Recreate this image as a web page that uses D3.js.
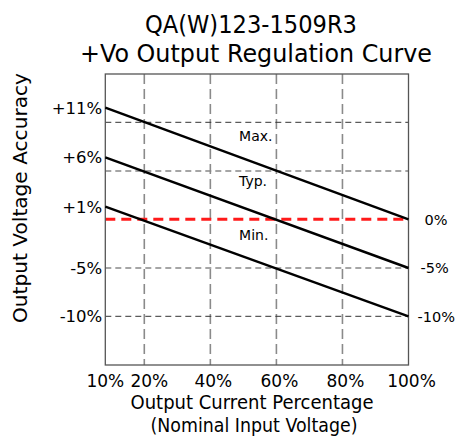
<!DOCTYPE html>
<html><head><meta charset="utf-8">
<script src="https://cdn.jsdelivr.net/npm/d3@7"></script>
<style>
html,body{margin:0;padding:0;background:#fff;}
svg{display:block;}
text{font-family:"Century Gothic","DejaVu Sans",sans-serif;fill:#000;}
</style></head>
<body><svg id="c" width="455" height="438"></svg>
<script>
// ---- data ----
const titleLines = ["QA(W)123-1509R3", "+Vo Output Regulation Curve"];
const xTicks = [10, 20, 40, 60, 80, 100];
const xGrid = [20, 40, 60, 80];
const leftTicks = [11, 6, 1, -5, -10];
const rightTicks = [0, -5, -10];
const hGridDark = [10, -10];
const hGridLight = [5, -5];
const refLine = 0;
const loads = [10, 100];
const maxCurve = [11, 0];
const typCurve = [6, -5];
const minCurve = [1, -10];
const curveNames = ["Max.", "Typ.", "Min."];
const curveLabelPos = [[48.7, 7.9], [48.7, 3.3], [48.7, -2.1]];

// ---- scales ----
const x = d3.scaleLinear().domain([10, 20, 100]).range([105.3, 144.3, 408.5]);
const y = d3.scaleLinear()
  .domain([-15, -10, -5, 0, 1, 5, 6, 10, 11, 15])
  .range([365, 316.3, 268, 219.3, 206.7, 171, 157.3, 122.3, 107.7, 74]);

const svg = d3.select("#c");
const x0 = x.range()[0], x1 = x.range()[2];
const yT = y(15), yB = y(-15);

// gridlines
svg.selectAll(".vg").data(xGrid).join("line")
  .attr("x1", d => x(d)).attr("x2", d => x(d)).attr("y1", yT).attr("y2", yB)
  .attr("stroke", "#8a8a8a").attr("stroke-width", 1.6).attr("stroke-dasharray", "10,5");
svg.selectAll(".hd").data(hGridDark).join("line")
  .attr("x1", x0).attr("x2", x1).attr("y1", d => y(d)).attr("y2", d => y(d))
  .attr("stroke", "#333").attr("stroke-width", 1).attr("stroke-dasharray", "6,4");
svg.selectAll(".hl").data(hGridLight).join("line")
  .attr("x1", x0).attr("x2", x1).attr("y1", d => y(d)).attr("y2", d => y(d))
  .attr("stroke", "#888").attr("stroke-width", 1.3).attr("stroke-dasharray", "6,4");

// red reference
svg.append("line").attr("x1", x0).attr("x2", x1).attr("y1", y(refLine)).attr("y2", y(refLine))
  .attr("stroke", "#ff1a1a").attr("stroke-width", 3).attr("stroke-dasharray", "10,6");

// frame
svg.append("rect").attr("x", x0).attr("y", yT).attr("width", x1 - x0).attr("height", yB - yT)
  .attr("fill", "none").attr("stroke", "#555").attr("stroke-width", 1.3);

// curves
const line = d3.line().x(d => x(d[0])).y(d => y(d[1]));
[maxCurve, typCurve, minCurve].forEach(c => {
  svg.append("path").datum(loads.map((l, i) => [l, c[i]])).attr("d", line)
    .attr("fill", "none").attr("stroke", "#000").attr("stroke-width", 2.4);
});

// curve labels
svg.selectAll(".cl").data(curveNames).join("text")
  .attr("x", (d, i) => x(curveLabelPos[i][0])).attr("y", (d, i) => y(curveLabelPos[i][1]))
  .attr("font-size", 14).attr("text-anchor", "start").text(d => d);

// left tick labels
const fmt = v => (v > 0 ? "+" : "") + v + "%";
svg.selectAll(".lt").data(leftTicks).join("text")
  .attr("x", x0 - 3).attr("y", d => y(d)).attr("dy", "0.36em")
  .attr("text-anchor", "end").attr("font-size", 16.5).text(fmt);
// right tick labels
svg.selectAll(".rt").data(rightTicks).join("text")
  .attr("x", d => x1 + (d === -10 ? 9 : d === -5 ? 12 : 16)).attr("y", d => y(d)).attr("dy", "0.36em")
  .attr("text-anchor", "start").attr("font-size", 14.5).text(fmt);
// bottom ticks
svg.selectAll(".bt").data(xTicks).join("text")
  .attr("x", d => x(d) + (d === 10 ? 0 : d === 20 ? 5 : 3)).attr("y", 387)
  .attr("text-anchor", "middle").attr("font-size", 17).text(d => d + "%");

// titles
svg.selectAll(".tt").data(titleLines).join("text")
  .attr("x", (d, i) => i ? 256 : 251).attr("y", (d, i) => i ? 62 : 33)
  .attr("text-anchor", "middle").attr("font-size", 25)
  .attr("textLength", (d, i) => i ? 352 : 212).attr("lengthAdjust", "spacingAndGlyphs")
  .text(d => d);

// axis titles
svg.append("text").attr("x", 252).attr("y", 409).attr("text-anchor", "middle")
  .attr("font-size", 19).attr("textLength", 243).attr("lengthAdjust", "spacingAndGlyphs")
  .text("Output Current Percentage");
svg.append("text").attr("x", 254).attr("y", 432).attr("text-anchor", "middle")
  .attr("font-size", 19).attr("textLength", 207).attr("lengthAdjust", "spacingAndGlyphs")
  .text("(Nominal Input Voltage)");
svg.append("text").attr("transform", "translate(27,198) rotate(-90)").attr("text-anchor", "middle")
  .attr("font-size", 19).attr("textLength", 250).attr("lengthAdjust", "spacingAndGlyphs")
  .text("Output Voltage Accuracy");
</script></body></html>
